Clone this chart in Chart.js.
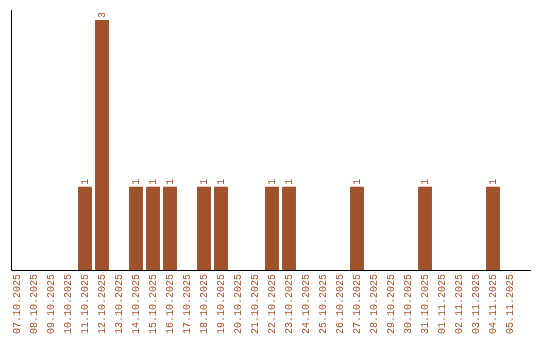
<!DOCTYPE html>
<html>
<head>
<meta charset="utf-8">
<script src="https://cdn.jsdelivr.net/npm/chart.js@4/dist/chart.umd.min.js"></script>
<style>
html,body{margin:0;padding:0;background:#fff;}
#wrap{width:540px;height:340px;}
</style>
</head>
<body>
<div id="wrap"><canvas id="c" width="540" height="340"></canvas></div>
<script>
const categories = ["07.10.2025","08.10.2025","09.10.2025","10.10.2025","11.10.2025","12.10.2025","13.10.2025","14.10.2025","15.10.2025","16.10.2025","17.10.2025","18.10.2025","19.10.2025","20.10.2025","21.10.2025","22.10.2025","23.10.2025","24.10.2025","25.10.2025","26.10.2025","27.10.2025","28.10.2025","29.10.2025","30.10.2025","31.10.2025","01.11.2025","02.11.2025","03.11.2025","04.11.2025","05.11.2025"];
const counts = [0,0,0,0,1,3,0,1,1,1,0,1,1,0,0,1,1,0,0,0,1,0,0,0,1,0,0,0,1,0];

const COLOR = '#a0522d';
const FAMILY = '"Liberation Mono", "DejaVu Sans Mono", monospace';
const FONT = '10px ' + FAMILY;

const axisLines = {
  id: 'axisLines',
  afterDatasetsDraw(chart) {
    const ctx = chart.ctx, a = chart.chartArea;
    ctx.save();
    ctx.strokeStyle = '#000';
    ctx.lineWidth = 1;
    ctx.beginPath();
    ctx.moveTo(Math.round(a.left) + 2.5, a.top);
    ctx.lineTo(Math.round(a.left) + 2.5, a.bottom + 0.5);
    ctx.lineTo(Math.round(a.right) + 12, a.bottom + 0.5);
    ctx.stroke();
    // value labels
    const meta = chart.getDatasetMeta(0);
    ctx.fillStyle = COLOR;
    ctx.font = FONT;
    ctx.textAlign = 'left';
    ctx.textBaseline = 'middle';
    meta.data.forEach((bar, i) => {
      const v = chart.data.datasets[0].data[i];
      if (!v) return;
      ctx.save();
      ctx.translate(bar.x, bar.y - 2);
      ctx.rotate(-Math.PI / 2);
      ctx.fillText(String(v), 0, 0);
      ctx.restore();
    });
    ctx.restore();
  }
};

new Chart(document.getElementById('c'), {
  type: 'bar',
  data: {
    labels: categories,
    datasets: [{
      data: counts,
      backgroundColor: COLOR,
      borderWidth: 0,
      barPercentage: 0.82,
      categoryPercentage: 1
    }]
  },
  options: {
    responsive: false,
    animation: false,
    events: [],
    layout: { padding: { left: 8.5, right: 21.5, top: 10, bottom: 0 } },
    plugins: { legend: { display: false }, tooltip: { enabled: false } },
    scales: {
      x: {
        offset: true,
        grid: { display: false, drawTicks: false },
        border: { display: false },
        ticks: {
          color: COLOR,
          font: { family: FAMILY, size: 10 },
          minRotation: 90, maxRotation: 90,
          autoSkip: false,
          padding: 4
        },
        afterFit(s) { s.height = 70; }
      },
      y: {
        display: false,
        min: 0,
        max: 3.12
      }
    }
  },
  plugins: [axisLines]
});
</script>
</body>
</html>
